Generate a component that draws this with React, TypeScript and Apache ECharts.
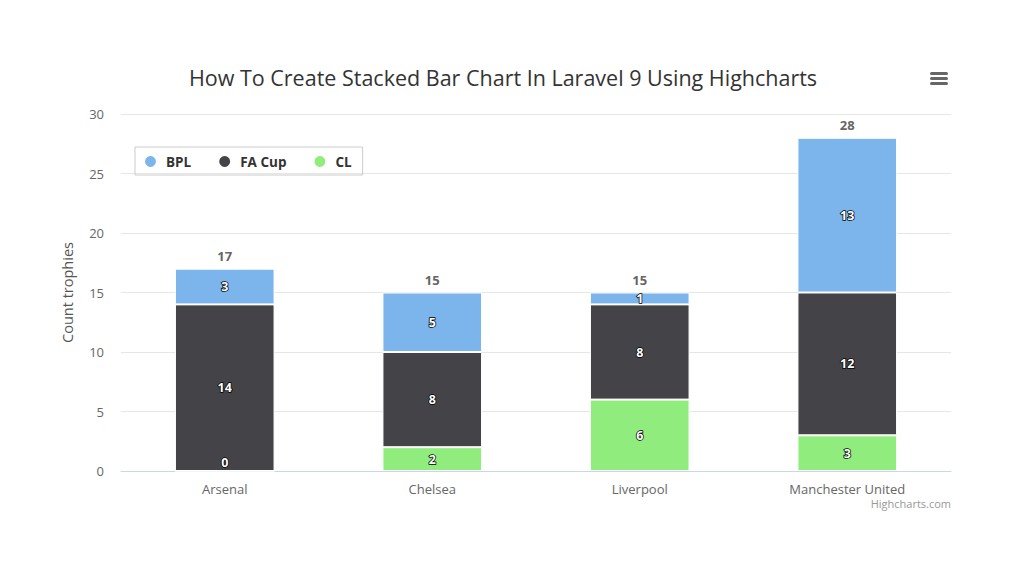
import React, { useEffect, useRef } from "react";
import * as echarts from "echarts";

const categories = ["Arsenal", "Chelsea", "Liverpool", "Manchester United"];
const seriesNames = ["BPL", "FA Cup", "CL"];
const bplValues = [3, 5, 1, 13];
const faCupValues = [14, 8, 8, 12];
const clValues = [0, 2, 6, 3];
const yTicks = [0, 5, 10, 15, 20, 25, 30];
const colors = { BPL: "#7cb5ec", "FA Cup": "#434348", CL: "#90ed7d" };

const FONT = "'Open Sans', 'DejaVu Sans', sans-serif";

export default function App() {
  const ref = useRef<HTMLDivElement>(null);

  useEffect(() => {
    document.body.style.margin = "0";
    const chart = echarts.init(ref.current!, null, { renderer: "svg" });
    const totals = categories.map((_, i) => bplValues[i] + faCupValues[i] + clValues[i]);

    const dataLabel = {
      show: true,
      position: "inside",
      color: "#fff",
      fontWeight: "bold",
      fontSize: 12.5,
      fontFamily: FONT,
      textBorderColor: "#000",
      textBorderWidth: 1.5,
    };

    const mkData = (vals: number[]) =>
      vals.map((v) =>
        v === 0 ? { value: v, label: { position: "insideBottom", offset: [0, 2] } } : v
      );

    const barCommon = {
      type: "bar",
      stack: "total",
      barWidth: "48%",
      itemStyle: { borderColor: "#fff", borderWidth: 1 },
      label: dataLabel,
      emphasis: { disabled: true },
    };

    chart.setOption({
      animation: false,
      backgroundColor: "#fff",
      title: {
        text: "How To Create Stacked Bar Chart In Laravel 9 Using Highcharts",
        left: 498,
        textAlign: "center",
        top: 61,
        textStyle: { fontFamily: FONT, fontSize: 21.5, fontWeight: "normal", color: "#333" },
      },
      legend: {
        data: seriesNames,
        left: 135,
        top: 147,
        orient: "horizontal",
        icon: "circle",
        itemWidth: 21,
        itemHeight: 13,
        itemGap: 26,
        padding: [7, 11, 6, 8],
        borderColor: "#ccc",
        borderWidth: 1,
        borderRadius: 0,
        textStyle: { fontFamily: FONT, fontSize: 13.5, fontWeight: "bold", color: "#333" },
      },
      grid: { left: 121, right: 73, top: 114, bottom: 103, containLabel: false },
      xAxis: {
        type: "category",
        data: categories,
        axisLine: { lineStyle: { color: "#ccd6eb" } },
        axisTick: { show: false },
        axisLabel: { color: "#666", fontSize: 13, fontFamily: FONT, margin: 11 },
      },
      yAxis: {
        type: "value",
        min: 0,
        max: yTicks[yTicks.length - 1],
        interval: 5,
        name: "Count trophies",
        nameLocation: "middle",
        nameGap: 46,
        nameTextStyle: { color: "#555", fontSize: 14.5, fontFamily: FONT },
        axisLabel: { color: "#666", fontSize: 13, fontFamily: FONT, margin: 17 },
        splitLine: { lineStyle: { color: "#e6e6e6" } },
        axisLine: { show: false },
        axisTick: { show: false },
      },
      series: [
        { ...barCommon, name: "CL", data: mkData(clValues), itemStyle: { ...barCommon.itemStyle, color: colors.CL } },
        { ...barCommon, name: "FA Cup", data: mkData(faCupValues), itemStyle: { ...barCommon.itemStyle, color: colors["FA Cup"] } },
        { ...barCommon, name: "BPL", data: mkData(bplValues), itemStyle: { ...barCommon.itemStyle, color: colors.BPL } },
        {
          type: "bar",
          name: "total",
          stack: "total",
          barWidth: "48%",
          data: totals.map(() => 0),
          itemStyle: { color: "transparent" },
          label: {
            show: true,
            position: "top",
            distance: 6,
            formatter: (p: any) => String(totals[p.dataIndex]),
            color: "#666",
            fontWeight: "bold",
            fontSize: 13,
            fontFamily: FONT,
          },
          emphasis: { disabled: true },
        },
      ],
      graphic: [
        { type: "rect", shape: { x: 930, y: 72, width: 18, height: 3, r: 1.5 }, style: { fill: "#666" } },
        { type: "rect", shape: { x: 930, y: 77, width: 18, height: 3, r: 1.5 }, style: { fill: "#666" } },
        { type: "rect", shape: { x: 930, y: 82, width: 18, height: 3, r: 1.5 }, style: { fill: "#666" } },
        {
          type: "text",
          right: 73,
          top: 498,
          style: { text: "Highcharts.com", fill: "#999", fontSize: 11, fontFamily: FONT },
        },
      ],
    });
    return () => chart.dispose();
  }, []);

  return <div ref={ref} style={{ position: "absolute", left: 0, top: 0, width: 1024, height: 574 }} />;
}
